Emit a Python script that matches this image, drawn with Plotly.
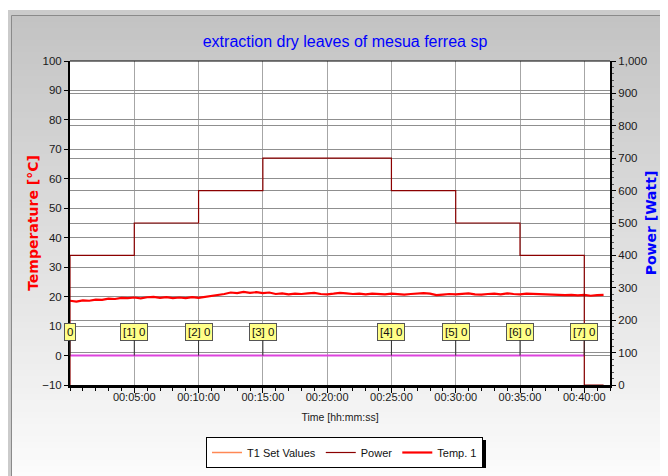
import plotly.graph_objects as go

# ---------------- data ----------------
temp_minutes = [0.0, 0.5, 1.0, 1.5, 2.0, 2.5, 3.0, 3.5, 4.0, 4.5,
                5.0, 5.5, 6.0, 6.5, 7.0, 7.5, 8.0, 8.5, 9.0, 9.5,
                10.0, 10.5, 11.0, 11.5, 12.0, 12.5, 13.0, 13.5, 14.0, 14.5,
                15.0, 15.5, 16.0, 16.5, 17.0, 17.5, 18.0, 18.5, 19.0, 19.5,
                20.0, 20.5, 21.0, 21.5, 22.0, 22.5, 23.0, 23.5, 24.0, 24.5,
                25.0, 25.5, 26.0, 26.5, 27.0, 27.5, 28.0, 28.5, 29.0, 29.5,
                30.0, 30.5, 31.0, 31.5, 32.0, 32.5, 33.0, 33.5, 34.0, 34.5,
                35.0, 35.5, 36.0, 36.5, 37.0, 37.5, 38.0, 38.5, 39.0, 39.5,
                40.0, 40.5, 41.0, 41.5]
temp_values = [18.6, 18.3, 18.7, 18.6, 19.0, 18.9, 19.3, 19.2, 19.6, 19.5,
               19.7, 19.4, 19.8, 19.9, 19.6, 19.8, 19.5, 19.7, 19.5, 19.8,
               19.6, 19.9, 20.2, 20.6, 20.9, 21.4, 21.2, 21.6, 21.3, 21.5,
               21.2, 21.4, 20.9, 21.1, 20.8, 21.0, 20.9, 21.1, 21.3, 20.9,
               20.8, 21.0, 21.3, 21.1, 20.9, 21.0, 20.8, 21.0, 20.9, 20.8,
               21.0, 20.9, 20.7, 20.9, 21.0, 21.2, 21.0, 20.5, 20.7, 20.9,
               20.8, 21.0, 21.1, 20.8, 20.7, 20.9, 21.0, 20.8, 21.1, 20.9,
               20.8, 21.0, 20.9, 20.8, 20.9, 20.6, 20.7, 20.5, 20.6, 20.4,
               20.6, 20.3, 20.5, 20.6]

power_minutes = [0, 0, 5, 10, 15, 25, 30, 35, 40, 41.5]
power_watts = [0, 400, 500, 600, 700, 600, 500, 400, 0, 0]

setpoint_minutes = [0, 5, 10, 15, 25, 30, 35, 40]
setpoint_values = [0, 0, 0, 0, 0, 0, 0, 0]
setpoint_labels = ["0", "[1] 0", "[2] 0", "[3] 0", "[4] 0", "[5] 0", "[6] 0", "[7] 0"]

x_tick_vals = [5, 10, 15, 20, 25, 30, 35, 40]
x_tick_text = ["00:05:00", "00:10:00", "00:15:00", "00:20:00",
               "00:25:00", "00:30:00", "00:35:00", "00:40:00"]

# ---------------- figure ----------------
# the page body adds an 8px offset; figure is sized to fit the window
OFF = 8
W, H = 668 - OFF, 476 - OFF
ML, MT = 70 - OFF, 61 - OFF
MR = W - (610 - OFF)
MB = H - (385 - OFF)
PW, PH = W - ML - MR, H - MT - MB

FONT = "Liberation Sans, Arial, sans-serif"


def rx(px):  # reference window pixel -> paper x
    return (px - OFF - ML) / PW


def ry(py):  # reference window pixel -> paper y
    return (H - MB - (py - OFF)) / PH


fig = go.Figure()

fig.add_trace(go.Scatter(
    x=setpoint_minutes, y=setpoint_values, name="T1 Set Values",
    mode="lines", line=dict(color="#dd44dd", width=2, shape="hv"),
    legendgroup="t1", showlegend=False, hoverinfo="skip"))
fig.add_trace(go.Scatter(
    x=[None], y=[None], name="T1 Set Values", mode="lines",
    line=dict(color="#ff8855", width=1.5), legendgroup="t1", legendrank=1))
fig.add_trace(go.Scatter(
    x=temp_minutes, y=temp_values, name="Temp. 1", mode="lines",
    line=dict(color="#ff0000", width=2.2), legendrank=3))
fig.add_trace(go.Scatter(
    x=power_minutes, y=power_watts, name="Power", yaxis="y2", mode="lines",
    line=dict(color="#8b0000", width=1.2, shape="hv"), legendrank=2))

shapes = []
# outer panel
shapes.append(dict(type="rect", xref="paper", yref="paper", layer="below",
                   x0=rx(7), x1=rx(700), y0=ry(500), y1=ry(10),
                   fillcolor="#cbcbcb", line=dict(width=0)))
# gradient strips
top, bottom = 16, 480
step = 6
py = top
while py < bottom:
    frac = (py - 15) / (476 - 15)
    g = int(round(195 + (252 - 195) * min(frac, 1)))
    col = "#%02x%02x%02x" % (g, g, g)
    shapes.append(dict(type="rect", xref="paper", yref="paper", layer="below",
                       x0=rx(12), x1=rx(700), y0=ry(py + step + 0.5),
                       y1=ry(py), fillcolor=col, line=dict(width=0)))
    py += step
# inner panel border lines
shapes.append(dict(type="line", xref="paper", yref="paper", layer="below",
                   x0=rx(11.5), x1=rx(700), y0=ry(15.5), y1=ry(15.5),
                   line=dict(color="#8a8a8a", width=1)))
shapes.append(dict(type="line", xref="paper", yref="paper", layer="below",
                   x0=rx(11.5), x1=rx(11.5), y0=ry(15.5), y1=ry(500),
                   line=dict(color="#8a8a8a", width=1)))
# white plot area
shapes.append(dict(type="rect", xref="paper", yref="paper", layer="below",
                   x0=0, x1=1, y0=0, y1=1, fillcolor="white",
                   line=dict(width=0)))
# top border of plot
shapes.append(dict(type="line", xref="paper", yref="paper", layer="above",
                   x0=0, x1=1, y0=1, y1=1, line=dict(color="black", width=1.2)))
# legend shadow (reference-window pixels)
LG_CX, LG_T, LG_W, LG_H = 344.5, 437, 277, 28
shapes.append(dict(type="rect", xref="paper", yref="paper", layer="below",
                   x0=rx(LG_CX - LG_W / 2 + 3), x1=rx(LG_CX + LG_W / 2 + 3),
                   y0=ry(LG_T + LG_H + 3), y1=ry(LG_T + 3),
                   fillcolor="black", line=dict(width=0)))

annotations = []
for t, v, lab in zip(setpoint_minutes, setpoint_values, setpoint_labels):
    annotations.append(dict(
        x=t, y=v, xref="x", yref="y", text=lab, showarrow=True,
        arrowhead=0, arrowwidth=1, arrowcolor="#333333", ax=0, ay=-24,
        bgcolor="#ffff88", bordercolor="#555555", borderwidth=1, borderpad=2,
        font=dict(family=FONT, size=11.5, color="#111111")))

fig.update_layout(
    width=W, height=H,
    margin=dict(l=ML, r=MR, t=MT, b=MB, autoexpand=False),
    paper_bgcolor="white", plot_bgcolor="white",
    title=dict(text="extraction dry leaves of mesua ferrea sp",
               x=rx(345), xref="paper", xanchor="center",
               y=1 - (41 - OFF) / H, yref="container", yanchor="middle",
               font=dict(family=FONT, size=16, color="#0000ff")),
    xaxis=dict(range=[0, 42], tickmode="array", tickvals=x_tick_vals,
               ticktext=x_tick_text, ticks="outside", ticklen=5,
               tickcolor="black", showline=True, linewidth=3,
               linecolor="black", showgrid=True, gridcolor="#a6a6a6",
               gridwidth=1, zeroline=False, automargin=False,
               ticklabelstandoff=-5,
               tickfont=dict(family=FONT, size=11, color="#1a1a1a"),
               minor=dict(tickmode="linear", tick0=0, dtick=1, ticks="outside",
                          ticklen=3, tickcolor="black", showgrid=False),
               title=dict(text="Time [hh:mm:ss]", standoff=12,
                          font=dict(family=FONT, size=10.5, color="#1a1a1a"))),
    yaxis=dict(range=[-10, 100], tick0=0, dtick=10, ticks="outside",
               ticklen=4, tickcolor="black", showline=True, linewidth=2,
               linecolor="black", showgrid=True, gridcolor="#8f8f8f",
               gridwidth=1, zeroline=False, automargin=False,
               tickfont=dict(family=FONT, size=11.5, color="#1a1a1a"),
               title=dict(text="Temperature [°C]", standoff=0,
                          font=dict(family="DejaVu Sans", size=14,
                                    color="#ff0000", weight="bold"))),
    yaxis2=dict(range=[0, 1000], tick0=0, dtick=100, overlaying="y",
                side="right", tickformat=",d", ticks="outside", ticklen=4,
                tickcolor="black", showline=True, linewidth=2,
                linecolor="black", showgrid=True, gridcolor="#8f8f8f",
                gridwidth=1, zeroline=False, automargin=False,
                tickfont=dict(family=FONT, size=11.5, color="#1a1a1a"),
                minor=dict(tickmode="linear", tick0=0, dtick=20,
                           ticks="outside", ticklen=2, tickcolor="#555555",
                           showgrid=False),
                title=dict(text="Power [Watt]", standoff=0,
                           font=dict(family="DejaVu Sans", size=14,
                                     color="#0000ff", weight="bold"))),
    legend=dict(orientation="h", x=rx(LG_CX), y=ry(LG_T), xanchor="center",
                yanchor="top", bgcolor="white", bordercolor="black",
                borderwidth=1, itemwidth=30,
                font=dict(family=FONT, size=11, color="#111111"),
                traceorder="normal"),
    shapes=shapes,
    annotations=annotations,
    showlegend=True,
)

fig.write_html("out.html")
